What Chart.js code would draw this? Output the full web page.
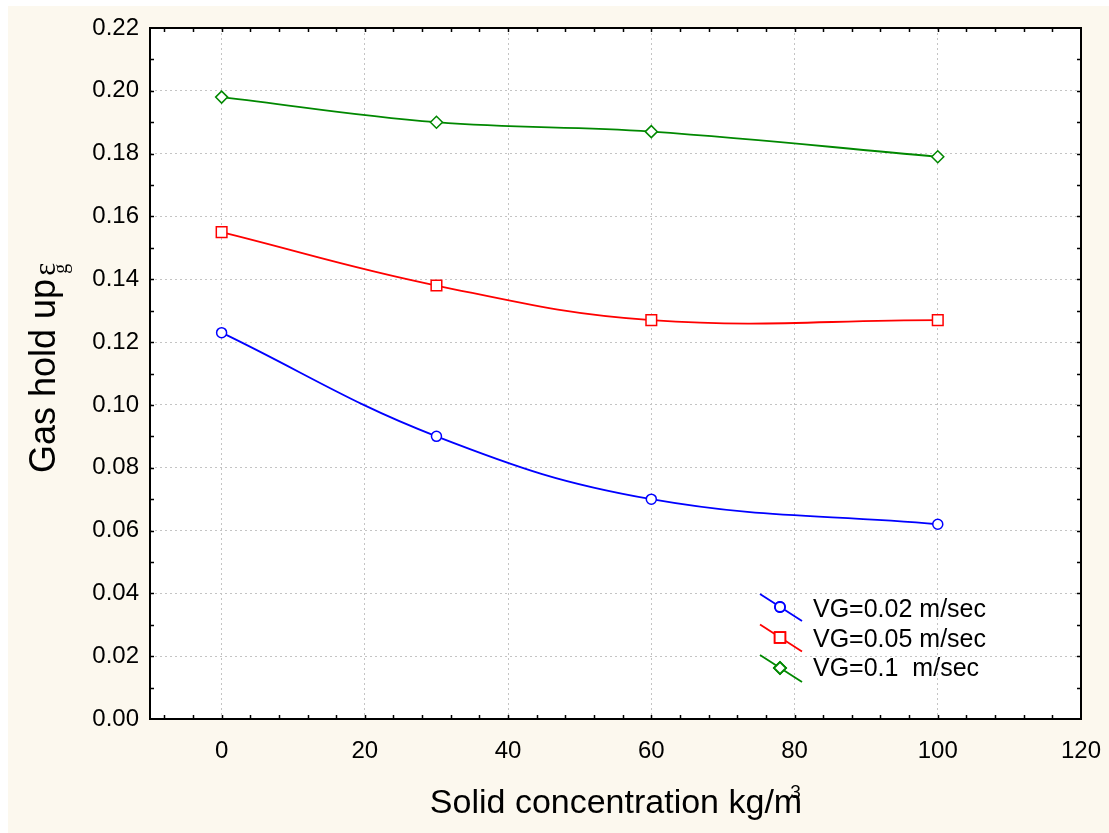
<!DOCTYPE html>
<html>
<head>
<meta charset="utf-8">
<title>Gas hold up vs solid concentration</title>
<script src="https://cdn.jsdelivr.net/npm/chart.js@4.4.0/dist/chart.umd.min.js"></script>
<style>
  html, body { margin: 0; padding: 0; background: #ffffff; }
  #wrap { width: 1109px; height: 833px; }
</style>
</head>
<body>
<div id="wrap"><canvas id="holdupChart" width="1109" height="833"></canvas></div>
<script>
// Solid concentration (kg/m3) and measured gas hold up for each superficial gas velocity
const solidConc = [0, 30, 60, 100];
const holdupVg002 = [0.123, 0.090, 0.070, 0.062];
const holdupVg005 = [0.155, 0.138, 0.127, 0.127];
const holdupVg01 = [0.198, 0.190, 0.187, 0.179];
const seriesNames = ['VG=0.02 m/sec', 'VG=0.05 m/sec', 'VG=0.1  m/sec'];

// Axis ticks
const xTicks = [0, 20, 40, 60, 80, 100, 120];
const yTicks = [0.00, 0.02, 0.04, 0.06, 0.08, 0.10, 0.12, 0.14, 0.16, 0.18, 0.20, 0.22];
const xMin = -10, xMax = 120, xMinorStep = 4;
const yMin = 0, yMax = 0.22, yMinorStep = 0.01;

const FONT = 'Arial, "Liberation Sans", sans-serif';
const SERIF = '"Liberation Serif", "Times New Roman", serif';

const seriesStyles = [
    { color: '#0000ff', pointStyle: 'circle', radius: 5 },
    { color: '#ff0000', pointStyle: 'rect', radius: 7.5 },
    { color: '#008800', pointStyle: 'rectRot', radius: 6 }
];
const seriesData = [holdupVg002, holdupVg005, holdupVg01];

function toPoints(values) {
    return solidConc.map((x, i) => ({ x: x, y: values[i] }));
}

// Background: cream page, white plot area
const backgroundPlugin = {
    id: 'pageBackground',
    beforeDraw(chart) {
        const ctx = chart.ctx;
        const area = chart.chartArea;
        ctx.save();
        ctx.fillStyle = '#ffffff';
        ctx.fillRect(0, 0, chart.width, chart.height);
        ctx.fillStyle = '#fcf8ee';
        ctx.fillRect(8, 6, chart.width - 8, chart.height - 6);
        ctx.fillStyle = '#ffffff';
        ctx.fillRect(area.left, area.top, area.right - area.left, area.bottom - area.top);
        ctx.restore();
    }
};

// Frame with inward ticks on all four sides, axis titles and the legend
const framePlugin = {
    id: 'frameAndLegend',
    afterDraw(chart) {
        const ctx = chart.ctx;
        const area = chart.chartArea;
        const xs = chart.scales.x;
        const ys = chart.scales.y;
        const tickLen = 4;

        ctx.save();
        ctx.strokeStyle = '#000000';
        ctx.lineWidth = 1.5;
        ctx.beginPath();
        for (let v = -8; v < xMax; v += xMinorStep) {
            const px = Math.round(xs.getPixelForValue(v)) + 0.5;
            ctx.moveTo(px, area.bottom);
            ctx.lineTo(px, area.bottom - tickLen);
            ctx.moveTo(px, area.top);
            ctx.lineTo(px, area.top + tickLen);
        }
        for (let i = 1; i < Math.round((yMax - yMin) / yMinorStep); i++) {
            const py = Math.round(ys.getPixelForValue(yMin + i * yMinorStep)) + 0.5;
            ctx.moveTo(area.left, py);
            ctx.lineTo(area.left + tickLen, py);
            ctx.moveTo(area.right, py);
            ctx.lineTo(area.right - tickLen, py);
        }
        ctx.stroke();

        ctx.lineWidth = 2;
        ctx.strokeRect(area.left, area.top, area.right - area.left, area.bottom - area.top);

        // x axis title with superscript
        ctx.fillStyle = '#000000';
        ctx.textBaseline = 'alphabetic';
        ctx.textAlign = 'left';
        ctx.font = '34px ' + FONT;
        const xTitle = 'Solid concentration kg/m';
        const xw = ctx.measureText(xTitle).width;
        const xStart = 616 - xw / 2;
        ctx.fillText(xTitle, xStart, 813);
        ctx.font = '19px ' + FONT;
        ctx.fillText('3', xStart + xw - 12, 798);

        // y axis title, rotated, with epsilon and subscript g
        ctx.translate(55, 473);
        ctx.rotate(-Math.PI / 2);
        ctx.font = '36px ' + FONT;
        const yTitle = 'Gas hold up';
        const yw = ctx.measureText(yTitle).width;
        ctx.fillText(yTitle, 0, 0);
        ctx.font = '31px ' + SERIF;
        ctx.fillText('\u03b5', yw + 3, 0);
        ctx.font = '20px ' + SERIF;
        ctx.fillText('g', yw + 5, 12);
        ctx.restore();

        // legend: slanted line through the marker, then the label
        ctx.save();
        seriesStyles.forEach((s, i) => {
            const cx = 780, cy = 607 + i * 30.5;
            ctx.strokeStyle = s.color;
            ctx.lineWidth = 1.8;
            ctx.beginPath();
            ctx.moveTo(cx - 20, cy - 13);
            ctx.lineTo(cx + 22, cy + 14);
            ctx.stroke();
            ctx.fillStyle = '#ffffff';
            Chart.helpers.drawPoint(ctx, {
                pointStyle: s.pointStyle,
                radius: s.radius,
                rotation: 0,
                borderWidth: 1.5
            }, cx, cy);
            ctx.fill();
            ctx.stroke();
            ctx.fillStyle = '#000000';
            ctx.font = '25px ' + FONT;
            ctx.textBaseline = 'alphabetic';
            ctx.textAlign = 'left';
            ctx.fillText(seriesNames[i], 813, 617 + i * 29.5);
        });
        ctx.restore();
    }
};

const ctx = document.getElementById('holdupChart').getContext('2d');
new Chart(ctx, {
    type: 'line',
    data: {
        datasets: seriesData.map((values, i) => ({
            label: seriesNames[i],
            data: toPoints(values),
            borderColor: seriesStyles[i].color,
            backgroundColor: '#ffffff',
            borderWidth: 1.8,
            tension: 0.4,
            fill: false,
            pointStyle: seriesStyles[i].pointStyle,
            pointRadius: seriesStyles[i].radius,
            pointBorderWidth: 1.5,
            pointBorderColor: seriesStyles[i].color,
            pointBackgroundColor: '#ffffff'
        }))
    },
    options: {
        responsive: false,
        animation: false,
        layout: {
            padding: { left: 0, top: 28, right: 28, bottom: 0 }
        },
        plugins: {
            legend: { display: false },
            tooltip: { enabled: false }
        },
        scales: {
            x: {
                type: 'linear',
                min: xMin,
                max: xMax,
                afterBuildTicks(scale) {
                    scale.ticks = xTicks.map(v => ({ value: v }));
                },
                afterFit(scale) {
                    scale.height = 114;
                    scale.paddingLeft = 0;
                    scale.paddingRight = 0;
                },
                grid: {
                    color: '#c4c4c4',
                    lineWidth: 1,
                    drawTicks: false
                },
                border: { display: false, dash: [2, 3] },
                ticks: {
                    color: '#000000',
                    padding: 18,
                    maxRotation: 0,
                    font: { family: FONT, size: 24 },
                    callback: v => String(v)
                }
            },
            y: {
                type: 'linear',
                min: yMin,
                max: yMax,
                afterBuildTicks(scale) {
                    scale.ticks = yTicks.map(v => ({ value: v }));
                },
                afterFit(scale) {
                    scale.width = 150;
                    scale.paddingTop = 0;
                    scale.paddingBottom = 0;
                },
                grid: {
                    color: '#c4c4c4',
                    lineWidth: 1,
                    drawTicks: false
                },
                border: { display: false, dash: [2, 3] },
                ticks: {
                    color: '#000000',
                    padding: 11,
                    font: { family: FONT, size: 24 },
                    callback: v => Number(v).toFixed(2)
                }
            }
        }
    },
    plugins: [backgroundPlugin, framePlugin]
});
</script>
</body>
</html>
